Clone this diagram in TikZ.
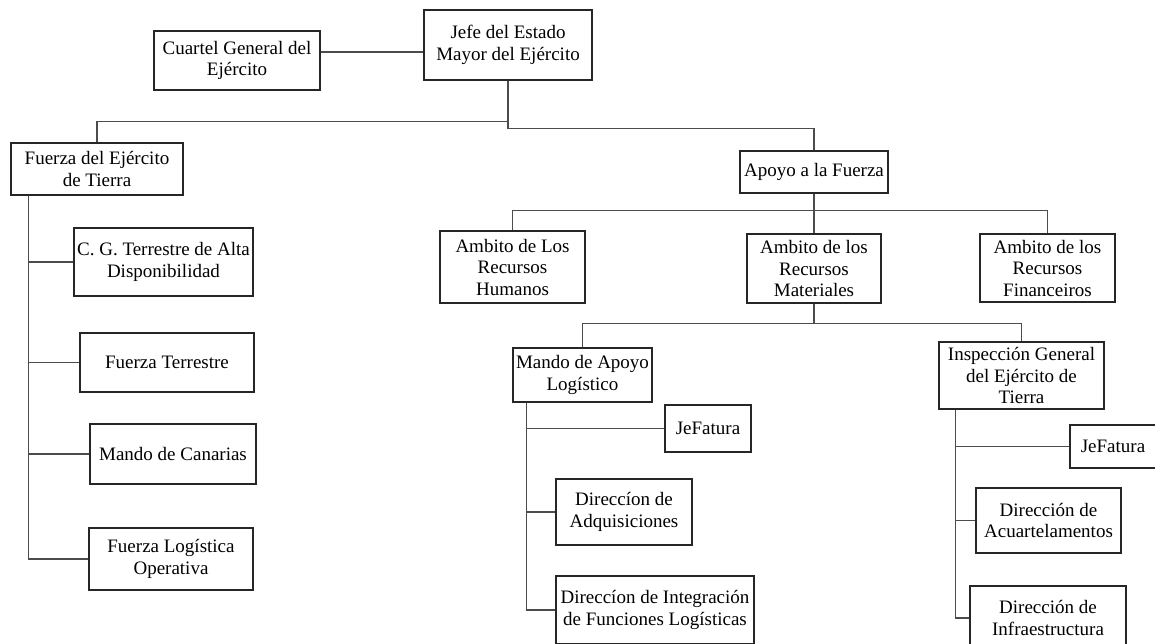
\documentclass[tikz,border=0pt]{standalone}
\usepackage{fontspec}
\setmainfont{Liberation Serif}

\begin{document}
\begin{tikzpicture}[x=1pt, y=-1pt,
        unit/.style={draw=black!85, line width=1.4pt, align=center, inner sep=0pt,
            font=\fontsize{19}{21.5}\selectfont},
        link/.style={draw=black!70, line width=1.5pt}]
        \useasboundingbox (0, 0) rectangle (1155, 643);
        \clip (0, 0) rectangle (1155, 643);

        \node[unit, minimum width=168, minimum height=70] (jefe) at (508, 45) {Jefe del Estado\\Mayor del Ejército};
        \node[unit, minimum width=166, minimum height=59] (cuartel) at (237, 60.5) {Cuartel General del\\Ejército};
        \node[unit, minimum width=172, minimum height=52] (fuerza) at (97, 169) {Fuerza del Ejército\\de Tierra};
        \node[unit, minimum width=148, minimum height=42] (apoyo) at (814, 172) {Apoyo a la Fuerza};

        \node[unit, minimum width=179, minimum height=68] (cg) at (163.5, 262) {C. G. Terrestre de Alta\\Disponibilidad};
        \node[unit, minimum width=174, minimum height=59] (fterrestre) at (167, 362.5) {Fuerza Terrestre};
        \node[unit, minimum width=166, minimum height=60] (canarias) at (173, 454) {Mando de Canarias};
        \node[unit, minimum width=164, minimum height=62] (flogistica) at (171, 559) {Fuerza Logística\\Operativa};

        \node[unit, minimum width=145, minimum height=72] (humanos) at (512.5, 267) {Ambito de Los\\Recursos\\Humanos};
        \node[unit, minimum width=134, minimum height=69] (materiales) at (814, 268.5) {Ambito de los\\Recursos\\Materiales};
        \node[unit, minimum width=135, minimum height=68] (financeiros) at (1047.5, 268) {Ambito de los\\Recursos\\Financeiros};

        \node[unit, minimum width=139, minimum height=54] (mando) at (582.5, 375) {Mando de Apoyo\\Logístico};
        \node[unit, minimum width=165, minimum height=67] (inspeccion) at (1021.5, 375.5) {Inspección General\\del Ejército de\\Tierra};

        \node[unit, minimum width=86, minimum height=47] (jefatura1) at (708, 428.5) {JeFatura};
        \node[unit, minimum width=136, minimum height=66] (adquisiciones) at (624, 512) {Direccíon de\\Adquisiciones};
        \node[unit, minimum width=198, minimum height=68] (integracion) at (655, 610) {Direccíon de Integración\\de Funciones Logísticas};

        \node[unit, minimum width=86, minimum height=43] (jefatura2) at (1113, 446.5) {JeFatura};
        \node[unit, minimum width=145, minimum height=65] (acuartelamientos) at (1048.5, 520.5) {Dirección de\\Acuartelamentos};
        \node[unit, minimum width=156, minimum height=64] (infraestructura) at (1048, 618) {Dirección de\\Infraestructura};

        \draw[link] (cuartel.east |- 0, 52) -- (jefe.west |- 0, 52);
        \draw[link] (jefe.south) -- ++(0, 41) -| (fuerza.north);
        \draw[link] (jefe.south) -- ++(0, 48) -| (apoyo.north);
        \foreach \n in {humanos, materiales, financeiros}
            \draw[link] (apoyo.south) -- ++(0, 17) -| (\n.north);
        \foreach \n in {mando, inspeccion}
            \draw[link] (materiales.south) -- ++(0, 20) -| (\n.north);
        \foreach \n in {cg, fterrestre, canarias, flogistica}
            \draw[link] ([xshift=18pt]fuerza.south west) |- (\n.west);
        \foreach \n in {jefatura1, adquisiciones, integracion}
            \draw[link] ([xshift=14pt]mando.south west) |- (\n.west);
        \foreach \n in {jefatura2, acuartelamientos, infraestructura}
            \draw[link] ([xshift=17pt]inspeccion.south west) |- (\n.west);

    \end{tikzpicture}
\end{document}
